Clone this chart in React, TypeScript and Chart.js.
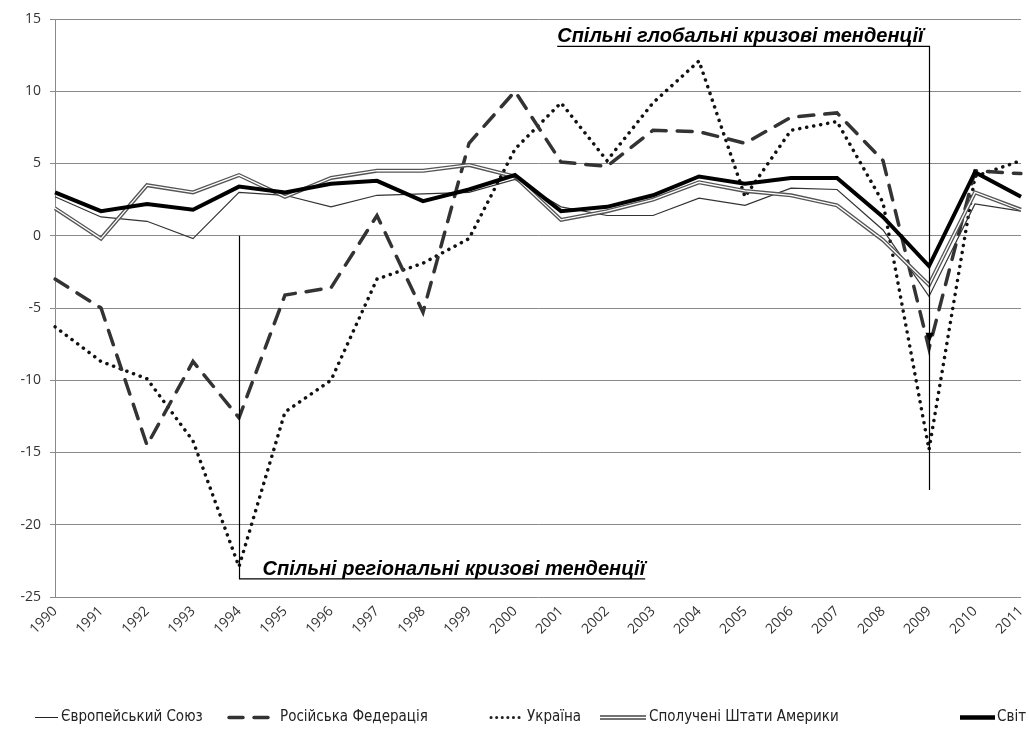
import React, { useEffect, useRef } from "react";
import { Chart, registerables } from "chart.js";

Chart.register(...registerables);

const years = ["1990","1991","1992","1993","1994","1995","1996","1997","1998","1999","2000","2001","2002","2003","2004","2005","2006","2007","2008","2009","2010","2011"];
const euValues = [2.7, 1.3, 1.0, -0.2, 3.0, 2.8, 2.0, 2.8, 2.9, 3.0, 3.9, 2.0, 1.4, 1.4, 2.6, 2.1, 3.3, 3.2, 0.4, -4.2, 2.2, 1.7];
const ruValues = [-3.0, -5.0, -14.5, -8.7, -12.6, -4.1, -3.6, 1.4, -5.3, 6.4, 10.0, 5.1, 4.8, 7.3, 7.2, 6.4, 8.2, 8.5, 5.2, -7.8, 4.5, 4.3];
const uaValues = [-6.3, -8.7, -9.9, -14.2, -22.9, -12.2, -10.0, -3.0, -1.9, -0.2, 6.0, 9.2, 5.2, 9.2, 12.1, 2.7, 7.3, 7.9, 2.3, -14.8, 4.1, 5.2];
const usValues = [1.9, -0.2, 3.5, 3.0, 4.2, 2.7, 4.0, 4.5, 4.5, 4.9, 4.1, 1.1, 1.7, 2.5, 3.7, 3.1, 2.8, 2.1, -0.3, -3.4, 3.0, 1.8];
const worldValues = [3.0, 1.7, 2.2, 1.8, 3.4, 3.0, 3.6, 3.8, 2.4, 3.2, 4.2, 1.7, 2.0, 2.8, 4.1, 3.6, 4.0, 4.0, 1.3, -2.1, 4.4, 2.7];

const seriesNames = ["Європейський Союз", "Російська Федерація", "Україна", "Сполучені Штати Америки", "Світ"];
const yMin = -25;
const yMax = 15;
const yStep = 5;

const globalLabel = "Спільні глобальні кризові тенденції";
const regionalLabel = "Спільні регіональні кризові тенденції";
const globalYearIndex = 19; // 2009
const regionalYearIndex = 4; // 1994

const annotationPlugin = {
  id: "crisisAnnotations",
  afterDatasetsDraw(chart: any) {
    const ctx = chart.ctx;
    const x = chart.scales.x;
    const y = chart.scales.y;
    ctx.save();
    ctx.strokeStyle = "#000";
    ctx.fillStyle = "#000";
    ctx.lineWidth = 1.2;
    ctx.font = "italic bold 20px 'Liberation Sans', Arial, sans-serif";

    // global
    const gx = Math.round(x.getPixelForValue(globalYearIndex)) + 0.5;
    const gTop = y.getPixelForValue(13.1);
    const gBottom = y.getPixelForValue(-17.6);
    const gArrow = y.getPixelForValue(-7.4);
    const gw = ctx.measureText(globalLabel).width;
    ctx.textAlign = "right";
    ctx.textBaseline = "alphabetic";
    ctx.fillText(globalLabel, gx - 6, gTop - 4);
    ctx.beginPath();
    ctx.moveTo(gx - 6 - gw, gTop);
    ctx.lineTo(gx, gTop);
    ctx.lineTo(gx, gBottom);
    ctx.stroke();
    ctx.beginPath();
    ctx.moveTo(gx - 4, gArrow - 10);
    ctx.lineTo(gx + 4, gArrow - 10);
    ctx.lineTo(gx, gArrow);
    ctx.closePath();
    ctx.fill();

    // regional
    const rx = Math.round(x.getPixelForValue(regionalYearIndex)) + 0.5;
    const rTop = y.getPixelForValue(0);
    const rBottom = y.getPixelForValue(-23.75);
    ctx.textAlign = "left";
    const rw = ctx.measureText(regionalLabel).width;
    ctx.fillText(regionalLabel, rx + 23, rBottom - 4);
    ctx.beginPath();
    ctx.moveTo(rx, rTop);
    ctx.lineTo(rx, rBottom);
    ctx.lineTo(rx + 23 + rw, rBottom);
    ctx.stroke();
    ctx.restore();
  },
};

const legendPlugin = {
  id: "customLegend",
  afterDraw(chart: any) {
    const ctx = chart.ctx;
    const cy = 717.5;
    ctx.save();
    ctx.font = "15px 'Liberation Sans Narrow', 'Arial Narrow', 'DejaVu Sans Condensed', sans-serif";
    ctx.fillStyle = "#222";
    ctx.textBaseline = "middle";
    ctx.textAlign = "left";
    const items = [
      { x0: 35, x1: 58, tx: 61 },
      { x0: 229, x1: 272, tx: 280 },
      { x0: 491, x1: 522, tx: 527 },
      { x0: 600, x1: 646, tx: 649 },
      { x0: 960, x1: 995, tx: 997 },
    ];
    items.forEach((it, i) => {
      ctx.save();
      ctx.beginPath();
      ctx.moveTo(it.x0, cy);
      ctx.lineTo(it.x1, cy);
      if (i === 0) {
        ctx.strokeStyle = "#222";
        ctx.lineWidth = 1;
        ctx.stroke();
      } else if (i === 1) {
        ctx.strokeStyle = "#333";
        ctx.lineWidth = 3.5;
        ctx.setLineDash([14, 11]);
        ctx.lineCap = "round";
        ctx.stroke();
      } else if (i === 2) {
        ctx.strokeStyle = "#222";
        ctx.lineWidth = 3;
        ctx.setLineDash([0.1, 5.5]);
        ctx.lineCap = "round";
        ctx.stroke();
      } else if (i === 3) {
        ctx.strokeStyle = "#444";
        ctx.lineWidth = 4.5;
        ctx.stroke();
        ctx.beginPath();
        ctx.moveTo(it.x0, cy);
        ctx.lineTo(it.x1, cy);
        ctx.strokeStyle = "#fff";
        ctx.lineWidth = 1.5;
        ctx.stroke();
      } else {
        ctx.strokeStyle = "#000";
        ctx.lineWidth = 4.5;
        ctx.stroke();
      }
      ctx.restore();
      ctx.fillText(seriesNames[i], it.tx, cy);
    });
    ctx.restore();
  },
};

export default function App() {
  const ref = useRef<HTMLCanvasElement | null>(null);
  useEffect(() => {
    document.body.style.margin = "0";
    const canvas = ref.current!;
    const chart = new Chart(canvas, {
      type: "line",
      data: {
        labels: years,
        datasets: [
          {
            label: seriesNames[4],
            data: worldValues,
            borderColor: "#000",
            borderWidth: 4,
            pointRadius: 0,
            tension: 0,
            order: 1,
          },
          {
            label: seriesNames[3] + " inner",
            data: usValues,
            borderColor: "#fff",
            borderWidth: 1.3,
            pointRadius: 0,
            tension: 0,
            order: 2,
          },
          {
            label: seriesNames[3],
            data: usValues,
            borderColor: "#555",
            borderWidth: 4,
            pointRadius: 0,
            tension: 0,
            order: 3,
          },
          {
            label: seriesNames[0],
            data: euValues,
            borderColor: "#333",
            borderWidth: 1.2,
            pointRadius: 0,
            tension: 0,
            order: 4,
          },
          {
            label: seriesNames[1],
            data: ruValues,
            borderColor: "#333",
            borderWidth: 3.5,
            borderDash: [15, 11],
            borderCapStyle: "round",
            pointRadius: 0,
            tension: 0,
            order: 5,
          },
          {
            label: seriesNames[2],
            data: uaValues,
            borderColor: "#111",
            borderWidth: 3.5,
            borderDash: [0.1, 7],
            borderCapStyle: "round",
            pointRadius: 0,
            tension: 0,
            order: 6,
          },
        ],
      },
      options: {
        responsive: false,
        animation: false,
        layout: { padding: { top: 19, right: 0, bottom: 0, left: 0 } },
        plugins: {
          legend: { display: false },
          tooltip: { enabled: false },
        },
        scales: {
          x: {
            offset: false,
            grid: { display: false, drawTicks: false },
            border: { display: false },
            ticks: {
              minRotation: 45,
              maxRotation: 45,
              autoSkip: false,
              padding: 6,
              color: "#333",
              font: { family: "'Open Sans', sans-serif", size: 14 },
            },
            afterFit(scale: any) {
              scale.height = 132;
              scale.paddingRight = 8;
            },
          },
          y: {
            min: yMin,
            max: yMax,
            ticks: {
              stepSize: yStep,
              color: "#333",
              padding: 9,
              font: { family: "'Open Sans', sans-serif", size: 14 },
            },
            grid: { color: "#8a8a8a", lineWidth: 1, tickLength: 5 },
            border: { display: true, color: "#8a8a8a", width: 1 },
            afterFit(scale: any) {
              scale.width = 55;
            },
          },
        },
      },
      plugins: [annotationPlugin, legendPlugin],
    });
    return () => chart.destroy();
  }, []);
  return <canvas ref={ref} width={1029} height={729} style={{ display: "block" }} />;
}
